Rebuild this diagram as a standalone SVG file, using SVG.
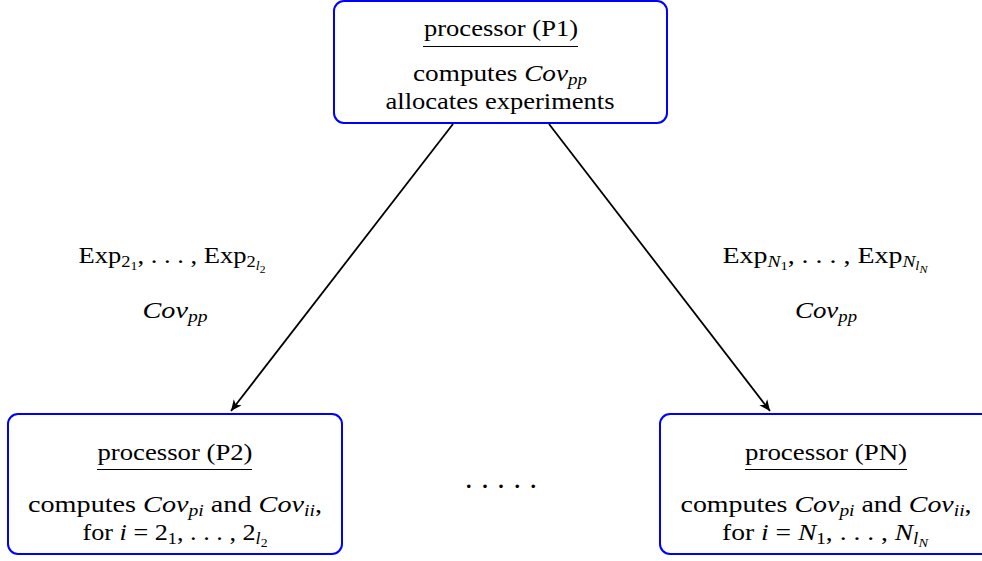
<svg xmlns="http://www.w3.org/2000/svg" width="982" height="561" viewBox="0 0 982 561">
<defs>
<style>
.box{fill:#fff;stroke:#0000ff;stroke-width:2}
text{font-family:"Liberation Serif","DejaVu Serif",serif;font-size:23px;fill:#000;text-anchor:middle}
.i{font-style:italic}
.s{font-size:16px}
.ss{font-size:12px}
.sss{font-size:10px}
.dots{font-size:30px}
.ul{stroke:#000;stroke-width:1.2}
.edge{stroke:#000;stroke-width:1.8;fill:none}
</style>
<marker id="ah" markerWidth="14" markerHeight="12" refX="11" refY="6" orient="auto" markerUnits="userSpaceOnUse">
<path d="M0,1 L11,6 L0,11 L3,6 Z" fill="#000"/>
</marker>
</defs>
<rect width="982" height="561" fill="#fff"/>
<g id="connectors">
<line class="edge" x1="453" y1="124" x2="231" y2="411" marker-end="url(#ah)"/>
<line class="edge" x1="549" y1="124" x2="770" y2="411" marker-end="url(#ah)"/>
</g>
<g id="P1">
<rect class="box" x="334" y="1" width="333" height="122" rx="10"/>
<text x="501" y="36" textLength="154" lengthAdjust="spacingAndGlyphs">processor (P1)</text>
<line class="ul" x1="423" y1="46.5" x2="578" y2="46.5"/>
<text x="500" y="81" textLength="174" lengthAdjust="spacingAndGlyphs">computes <tspan class="i">Cov</tspan><tspan class="i s" dy="4">pp</tspan></text>
<text x="500" y="109" textLength="229" lengthAdjust="spacingAndGlyphs">allocates experiments</text>
</g>
<g id="P2">
<rect class="box" x="8" y="414" width="334" height="140" rx="10"/>
<text x="175" y="460" textLength="155" lengthAdjust="spacingAndGlyphs">processor (P2)</text>
<line class="ul" x1="97" y1="469.5" x2="252" y2="469.5"/>
<text x="175" y="512" textLength="294" lengthAdjust="spacingAndGlyphs">computes <tspan class="i">Cov</tspan><tspan class="i s" dy="4">pi</tspan><tspan dy="-4"> and </tspan><tspan class="i">Cov</tspan><tspan class="i s" dy="4">ii</tspan><tspan dy="-4">,</tspan></text>
<text x="175" y="540" textLength="185" lengthAdjust="spacingAndGlyphs">for <tspan class="i">i</tspan> = 2<tspan class="s" dy="4">1</tspan><tspan dy="-4">, . . . , 2</tspan><tspan class="i s" dy="4">l</tspan><tspan class="ss" dy="3">2</tspan></text>
</g>
<g id="PN">
<rect class="box" x="660" y="414" width="334" height="140" rx="10"/>
<text x="826" y="460" textLength="162" lengthAdjust="spacingAndGlyphs">processor (PN)</text>
<line class="ul" x1="745" y1="469.5" x2="907" y2="469.5"/>
<text x="826" y="512" textLength="291" lengthAdjust="spacingAndGlyphs">computes <tspan class="i">Cov</tspan><tspan class="i s" dy="4">pi</tspan><tspan dy="-4"> and </tspan><tspan class="i">Cov</tspan><tspan class="i s" dy="4">ii</tspan><tspan dy="-4">,</tspan></text>
<text x="825" y="540" textLength="206" lengthAdjust="spacingAndGlyphs">for <tspan class="i">i</tspan> = <tspan class="i">N</tspan><tspan class="s" dy="4">1</tspan><tspan dy="-4">, . . . , </tspan><tspan class="i">N</tspan><tspan class="i s" dy="4">l</tspan><tspan class="i ss" dy="3">N</tspan></text>
</g>
<g id="label-left">
<text x="172" y="263" textLength="187" lengthAdjust="spacingAndGlyphs">Exp<tspan class="s" dy="4">2</tspan><tspan class="ss" dy="3">1</tspan><tspan dy="-7">, . . . , Exp</tspan><tspan class="s" dy="4">2</tspan><tspan class="i ss" dy="3">l</tspan><tspan class="sss" dy="3">2</tspan></text>
<text x="175" y="318" textLength="65" lengthAdjust="spacingAndGlyphs"><tspan class="i">Cov</tspan><tspan class="i s" dy="4">pp</tspan></text>
</g>
<g id="label-right">
<text x="825" y="263" textLength="205" lengthAdjust="spacingAndGlyphs">Exp<tspan class="i s" dy="4">N</tspan><tspan class="ss" dy="3">1</tspan><tspan dy="-7">, . . . , Exp</tspan><tspan class="i s" dy="4">N</tspan><tspan class="i ss" dy="3">l</tspan><tspan class="i sss" dy="3">N</tspan></text>
<text x="826" y="318" textLength="62" lengthAdjust="spacingAndGlyphs"><tspan class="i">Cov</tspan><tspan class="i s" dy="4">pp</tspan></text>
</g>
<g id="dots">
<text class="dots" x="501" y="488" textLength="72" lengthAdjust="spacing">. . . . .</text>
</g>
</svg>
